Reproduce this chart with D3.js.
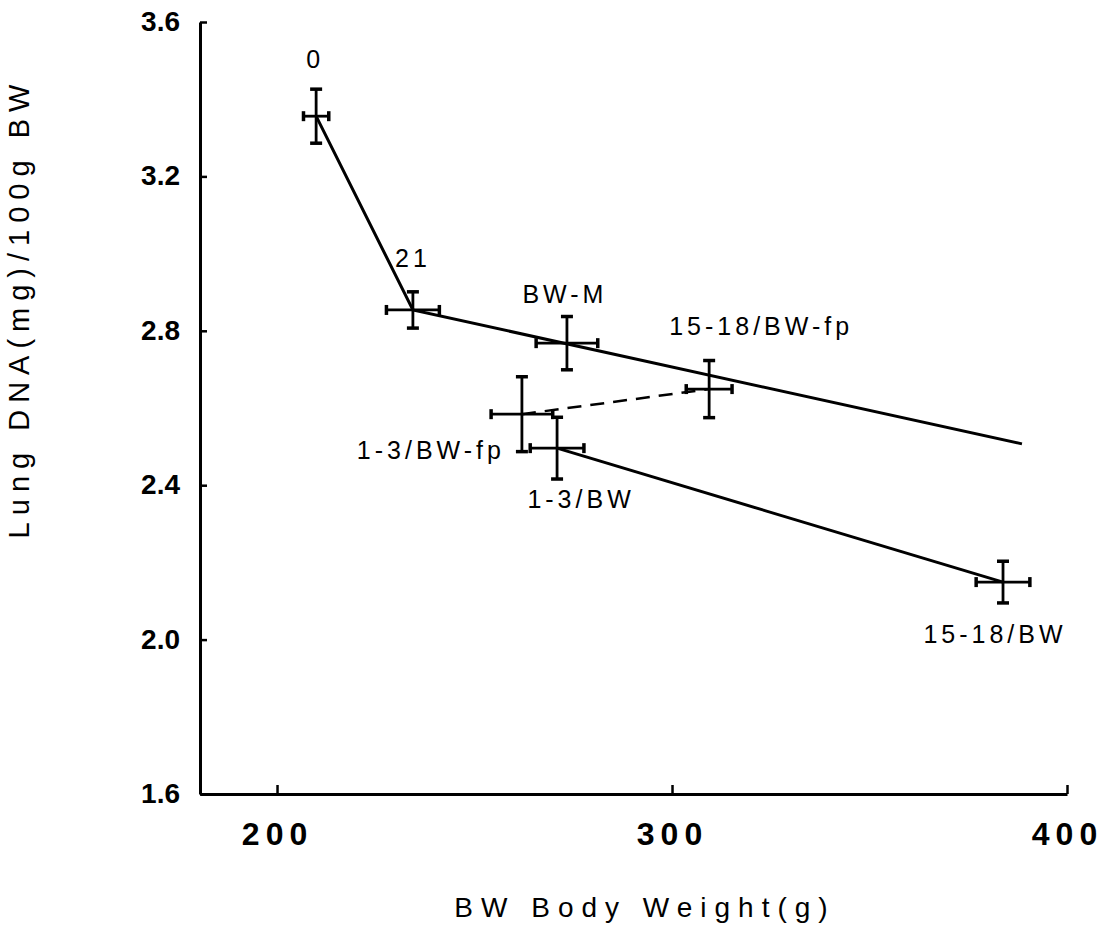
<!DOCTYPE html>
<html>
<head>
<meta charset="utf-8">
<script src="https://cdn.jsdelivr.net/npm/d3@7"></script>
<style>
  body { margin: 0; background: #fff; }
  svg { display: block; font-family: "Liberation Sans", Arial, sans-serif; }
</style>
</head>
<body>
<div id="chart"></div>
<script>
// groups and their means / errors
const groups = ["0", "21", "BW-M", "15-18/BW-fp", "1-3/BW-fp", "1-3/BW", "15-18/BW"];
const bodyWeight = [209.9, 234.4, 273.4, 309.4, 262.0, 270.9, 383.8];
const bodyWeightErr = [3.2, 6.7, 7.8, 5.8, 7.8, 6.8, 6.8];
const lungDNA = [3.356, 2.854, 2.768, 2.649, 2.584, 2.496, 2.149];
const lungDNAErr = [0.07, 0.047, 0.069, 0.074, 0.097, 0.08, 0.054];

// upper solid line (0 -> 21 -> fitted line end)
const upperLineX = [209.9, 234.4, 388.6];
const upperLineY = [3.356, 2.854, 2.507];
// lower solid line: 1-3/BW -> 15-18/BW
const lowerLineX = [270.9, 383.8];
const lowerLineY = [2.496, 2.149];
// dashed line: 1-3/BW-fp -> 15-18/BW-fp
const dashLineX = [262.0, 309.4];
const dashLineY = [2.584, 2.649];

const xTicks = [200, 300, 400];
const yTicks = [1.6, 2.0, 2.4, 2.8, 3.2, 3.6];

// label placement relative to each point (pixels)
const labelPos = {
  "0": [-1, -48, "middle"],
  "21": [0, -43, "middle"],
  "BW-M": [-2, -40, "middle"],
  "15-18/BW-fp": [52, -54, "middle"],
  "1-3/BW-fp": [-17, 45, "end"],
  "1-3/BW": [24, 60, "middle"],
  "15-18/BW": [-8, 61, "middle"]
};

function draw() {
  const width = 1107, height = 934;
  const svg = d3.select("#chart").append("svg")
    .attr("width", width).attr("height", height);

  const x = d3.scaleLinear().domain([180.5, 400]).range([200, 1067]);
  const y = d3.scaleLinear().domain([1.6, 3.6]).range([794, 22]);

  // axes
  const gx = svg.append("g").attr("transform", "translate(0,794)")
    .call(d3.axisBottom(x).tickValues(xTicks).tickSize(-9).tickSizeOuter(0).tickFormat(d3.format("d")));
  const gy = svg.append("g").attr("transform", "translate(200,0)")
    .call(d3.axisLeft(y).tickValues(yTicks).tickSize(-7).tickSizeOuter(0).tickFormat(d3.format(".1f")));

  [gx, gy].forEach(g => {
    g.select(".domain").attr("stroke", "#000").attr("stroke-width", 3);
    g.selectAll(".tick line").attr("stroke", "#000").attr("stroke-width", 2.5);
  });
  gx.selectAll(".tick text")
    .attr("y", 28).attr("dy", "0.71em")
    .style("font-size", "32px").style("font-weight", "bold").style("letter-spacing", "6px")
    .attr("fill", "#000");
  gy.selectAll(".tick text")
    .attr("x", -20).attr("dy", "0.3em")
    .style("font-size", "28px").style("font-weight", "bold")
    .attr("fill", "#000");

  // axis titles
  svg.append("text")
    .attr("x", 645).attr("y", 917)
    .attr("text-anchor", "middle")
    .style("font-size", "28px").style("letter-spacing", "8px")
    .text("BW Body Weight(g)");
  svg.append("text")
    .attr("transform", "translate(29,308) rotate(-90)")
    .attr("text-anchor", "middle")
    .style("font-size", "29px").style("letter-spacing", "7px")
    .text("Lung DNA(mg)/100g BW");

  // lines
  const line = d3.line().x(d => x(d[0])).y(d => y(d[1]));
  svg.append("path").datum(d3.zip(upperLineX, upperLineY))
    .attr("d", line).attr("fill", "none").attr("stroke", "#000").attr("stroke-width", 3);
  svg.append("path").datum(d3.zip(lowerLineX, lowerLineY))
    .attr("d", line).attr("fill", "none").attr("stroke", "#000").attr("stroke-width", 3);
  svg.append("path").datum(d3.zip(dashLineX, dashLineY))
    .attr("d", line).attr("fill", "none").attr("stroke", "#000").attr("stroke-width", 2.5)
    .attr("stroke-dasharray", "14,9");

  // error bars
  const pts = groups.map((g, i) => ({
    name: g, bw: bodyWeight[i], bwe: bodyWeightErr[i], dna: lungDNA[i], dnae: lungDNAErr[i]
  }));
  const eb = svg.append("g").attr("stroke", "#000").attr("stroke-width", 2.8);
  pts.forEach(p => {
    const cx = x(p.bw), cy = y(p.dna);
    const y0 = y(p.dna - p.dnae), y1 = y(p.dna + p.dnae);
    const x0 = x(p.bw - p.bwe), x1 = x(p.bw + p.bwe);
    eb.append("line").attr("x1", cx).attr("x2", cx).attr("y1", y0).attr("y2", y1);
    eb.append("line").attr("x1", cx - 6).attr("x2", cx + 6).attr("y1", y0).attr("y2", y0).attr("stroke-width", 3.5);
    eb.append("line").attr("x1", cx - 6).attr("x2", cx + 6).attr("y1", y1).attr("y2", y1).attr("stroke-width", 3.5);
    eb.append("line").attr("x1", x0).attr("x2", x1).attr("y1", cy).attr("y2", cy);
    eb.append("line").attr("x1", x0).attr("x2", x0).attr("y1", cy - 5).attr("y2", cy + 5).attr("stroke-width", 3.5);
    eb.append("line").attr("x1", x1).attr("x2", x1).attr("y1", cy - 5).attr("y2", cy + 5).attr("stroke-width", 3.5);
  });

  // point labels
  svg.selectAll("text.lbl").data(pts).enter().append("text")
    .attr("class", "lbl")
    .attr("x", d => x(d.bw) + labelPos[d.name][0])
    .attr("y", d => y(d.dna) + labelPos[d.name][1])
    .attr("text-anchor", d => labelPos[d.name][2])
    .style("font-size", "25px").style("letter-spacing", "4px")
    .text(d => d.name);
}

document.addEventListener("DOMContentLoaded", draw);
</script>
</body>
</html>
